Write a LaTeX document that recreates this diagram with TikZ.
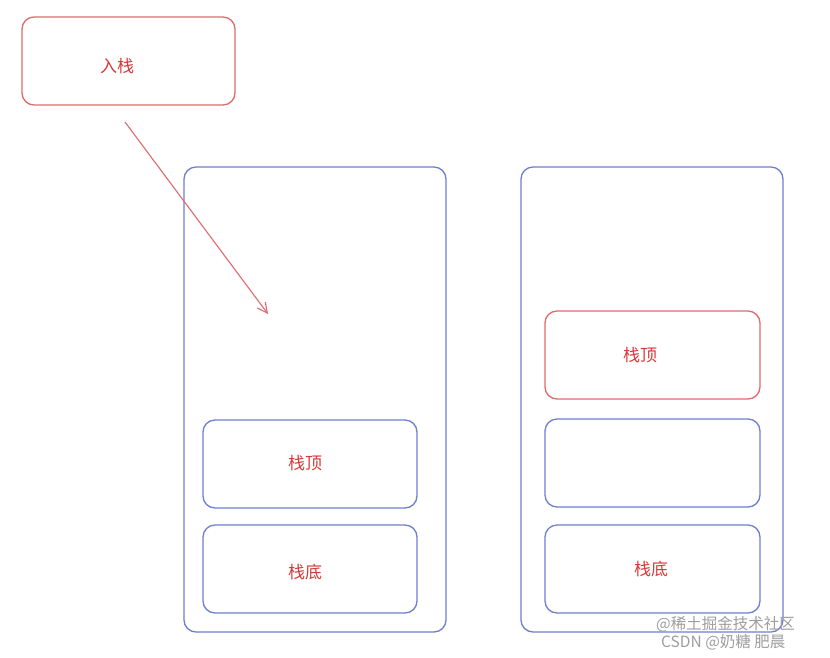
\documentclass[tikz,border=0pt]{standalone}
\usepackage{fontspec}
\newfontfamily\cjk{Noto Sans CJK SC}
\usetikzlibrary{arrows.meta}
\definecolor{sred}{HTML}{E06A6E}
\definecolor{sblue}{HTML}{6F7FD0}
\definecolor{tred}{HTML}{D63A3A}
\tikzset{
  box/.style={draw=#1, line width=1.3pt, rounded corners=12pt, inner sep=0pt},
  lbl/.style={font=\cjk\fontsize{17}{20}\selectfont, text=tred},
  wm/.style={font=\cjk\fontsize{15.5}{16}\selectfont, text=black!38, inner sep=0pt}
}
\begin{document}
\begin{tikzpicture}[x=1pt,y=-1pt]
\useasboundingbox (0,0) rectangle (830,657);
\fill[white] (0,0) rectangle (830,657);
% push box
\draw[box=sred] (22,17) rectangle (235,105);
\node[lbl] (push) at (117,66) {入栈};
% left stack
\draw[box=sblue] (184,167) rectangle (446,632);
\draw[box=sblue] (203,420) rectangle (417,508);
\node[lbl] (ltop) at (305,463) {栈顶};
\draw[box=sblue] (203,525) rectangle (417,613);
\node[lbl] (lbot) at (305,572) {栈底};
% right stack
\draw[box=sblue] (521,167) rectangle (783,632);
\draw[box=sred] (545,311) rectangle (760,399);
\node[lbl] (rtop) at (640,355) {栈顶};
\draw[box=sblue] (545,419) rectangle (760,507);
\draw[box=sblue] (545,525) rectangle (760,613);
\node[lbl] (rbot) at (651,569) {栈底};
% arrow
\coordinate (a1) at (125,122);
\coordinate (a2) at (268,314);
\draw[sred, line width=1.1pt, -{Straight Barb[length=10pt,width=10pt]}] (a1) -- (a2);
% watermark
\node[wm, anchor=west] (wm1) at (656,624) {@稀土掘金技术社区};
\node[wm, anchor=west] (wm2) at (661,642) {CSDN @奶糖 肥晨};
\end{tikzpicture}
\end{document}
